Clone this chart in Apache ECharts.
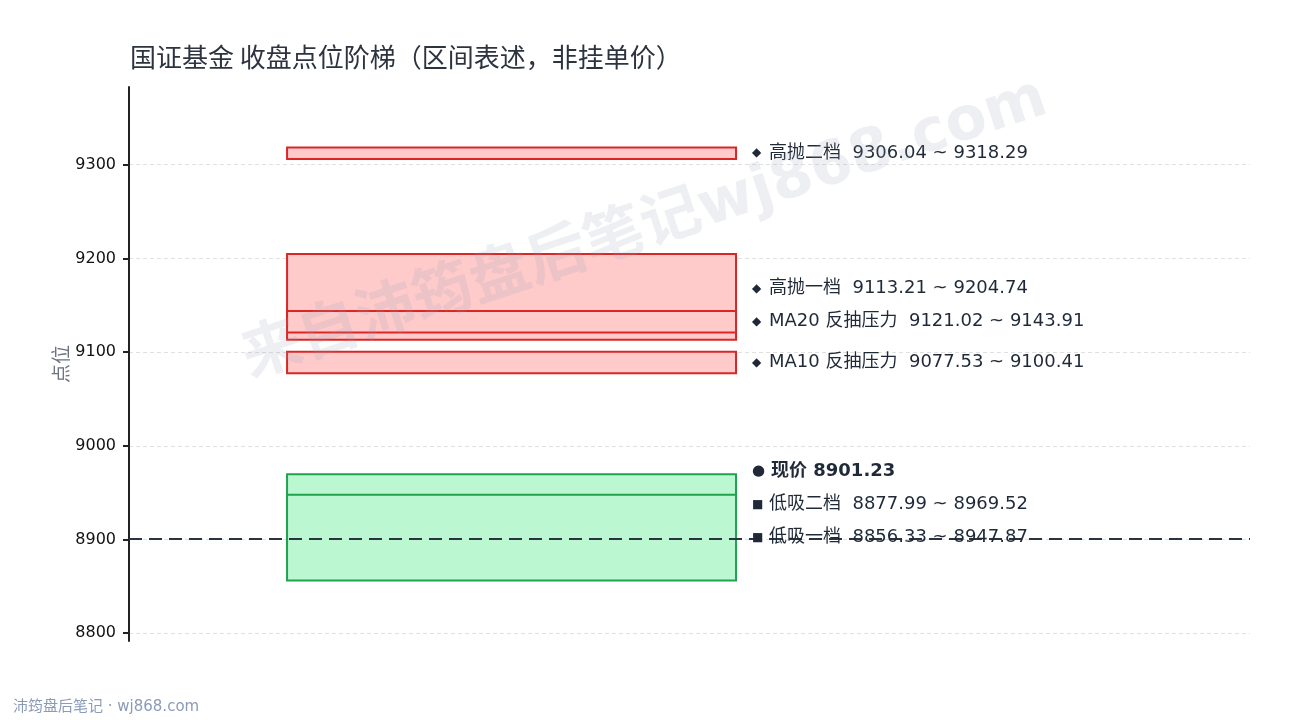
<!DOCTYPE html>
<html>
<head>
<meta charset="utf-8">
<script src="https://cdn.jsdelivr.net/npm/echarts@6/dist/echarts.min.js"></script>
<style>html,body{margin:0;padding:0;background:#fff}#c{width:1290px;height:720px}</style>
</head>
<body>
<div id="c"></div>
<script>
// ---- data ----
const bandNames = ['高抛二档', '高抛一档', 'MA20 反抽压力', 'MA10 反抽压力', '低吸二档', '低吸一档'];
const bandLow   = [9306.04, 9113.21, 9121.02, 9077.53, 8877.99, 8856.33];
const bandHigh  = [9318.29, 9204.74, 9143.91, 9100.41, 8969.52, 8947.87];
const bandKind  = ['sell', 'sell', 'sell', 'sell', 'buy', 'buy'];
const priceName = '现价';
const priceValue = 8901.23;
const yTicks = [8800, 8900, 9000, 9100, 9200, 9300];
const titleText = '国证基金 收盘点位阶梯（区间表述，非挂单价）';
const yAxisName = '点位';
const footerText = '沛筠盘后笔记 · wj868.com';
const watermarkText = '来自沛筠盘后笔记wj868.com';

const FONT = '"DejaVu Sans", "Noto Sans CJK SC", sans-serif';
const CJK = '"Noto Sans CJK SC", "DejaVu Sans", sans-serif';
const allVals = bandLow.concat(bandHigh, [priceValue]);
const dMin = Math.min.apply(null, allVals), dMax = Math.max.apply(null, allVals);
const pad = (dMax - dMin) * 0.14;

const bandData = bandNames.map((n, i) => [bandLow[i], bandHigh[i], bandKind[i] === 'sell' ? 0 : 1]);
const X0 = 0.141, X1 = 0.5415;

const chart = echarts.init(document.getElementById('c'), null, {renderer: 'canvas'});
chart.setOption({
  animation: false,
  backgroundColor: '#fff',
  textStyle: {fontFamily: FONT},
  title: {text: titleText, left: 125, top: 39,
    textStyle: {fontFamily: CJK, fontSize: 26, fontWeight: 'normal', color: '#2d3440'}},
  grid: {left: 129, right: 40, top: 87, bottom: 79},
  xAxis: {type: 'value', min: 0, max: 1, show: false},
  yAxis: {
    type: 'value', min: dMin - pad, max: dMax + pad,
    name: yAxisName, nameLocation: 'middle', nameGap: 56, nameMoveOverlap: false,
    nameTextStyle: {fontFamily: FONT, fontSize: 19, color: '#6b7280'},
    axisLine: {show: true, lineStyle: {color: '#222', width: 2}},
    axisTick: {show: true, length: 6, customValues: yTicks, lineStyle: {color: '#222', width: 2}},
    axisLabel: {fontFamily: FONT, fontSize: 16, color: '#111', margin: 13, customValues: yTicks,
      formatter: v => String(Math.round(v))},
    splitLine: {show: true, lineStyle: {color: '#e0e0e0', type: [4, 3], width: 1}}
  },
  series: [{
    type: 'custom',
    data: bandData,
    renderItem: function (params, api) {
      const lo = api.value(0), hi = api.value(1), k = api.value(2);
      const p1 = api.coord([X0, hi]);
      const p2 = api.coord([X1, lo]);
      return {
        type: 'rect',
        shape: {x: p1[0], y: p1[1], width: p2[0] - p1[0], height: p2[1] - p1[1]},
        style: {
          fill: k === 0 ? '#fecaca' : '#bbf7d0',
          stroke: k === 0 ? '#dc2626' : '#1fa34f',
          lineWidth: 2
        }
      };
    },
    markLine: {
      silent: true, symbol: 'none',
      label: {show: false},
      lineStyle: {color: '#2a3342', width: 2, type: [13, 7]},
      data: [{yAxis: priceValue}]
    },
    z: 2
  }]
});

// ---- labels with simple collision avoidance (bottom-up) ----
const items = [];
for (let i = 0; i < 4; i++) items.push({kind: 'sell', v: (bandLow[i] + bandHigh[i]) / 2,
  text: bandNames[i] + '  ' + bandLow[i].toFixed(2) + ' ~ ' + bandHigh[i].toFixed(2)});
items.push({kind: 'price', v: priceValue, text: priceName + ' ' + priceValue.toFixed(2)});
for (let i = 4; i < 6; i++) items.push({kind: 'buy', v: (bandLow[i] + bandHigh[i]) / 2,
  text: bandNames[i] + '  ' + bandLow[i].toFixed(2) + ' ~ ' + bandHigh[i].toFixed(2)});

const GAP = 33;
const ys = items.map(it => chart.convertToPixel({yAxisIndex: 0}, it.v));
for (let i = items.length - 2; i >= 0; i--) {
  if (ys[i] > ys[i + 1] - GAP) ys[i] = ys[i + 1] - GAP;
}
const lx = chart.convertToPixel({xAxisIndex: 0}, X1) + 16;
const markers = {sell: '◆', price: '●', buy: '■'};
const graphics = items.map((it, i) => ({
  type: 'text', x: lx, y: ys[i], z: 10,
  style: {
    text: '{' + (it.kind === 'price' ? 'mp' : 'm') + '|' + markers[it.kind] + '}{' + (it.kind === 'price' ? 'b' : 't') + '|' + it.text + '}',
    rich: {
      m: {fontSize: 12, fill: '#1f2937', fontFamily: 'DejaVu Sans', width: 17},
      mp: {fontSize: 15, fill: '#1f2937', fontFamily: 'DejaVu Sans', width: 19},
      t: {fontSize: 18, fill: '#1f2937', fontFamily: FONT},
      b: {fontSize: 18, fill: '#1f2937', fontFamily: FONT, fontWeight: 'bold'}
    },
    align: 'left',
    verticalAlign: 'middle'
  }
}));
graphics.push({
  type: 'text', x: 13, y: 707, z: 10,
  style: {text: footerText, fontSize: 15, fill: '#8a9bb8', fontFamily: FONT, verticalAlign: 'middle'}
});
graphics.push({
  type: 'text', x: 645, y: 230, rotation: 0.32, z: 20, silent: true,
  style: {text: watermarkText, fontSize: 60, fontWeight: 'bold', fill: 'rgba(148,163,184,0.17)',
    fontFamily: FONT, align: 'center', verticalAlign: 'middle'}
});
chart.setOption({graphic: graphics});
</script>
</body>
</html>
